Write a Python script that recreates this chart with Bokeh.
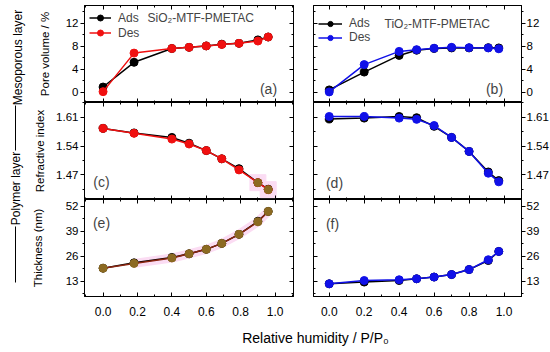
import numpy as np
from bokeh.plotting import figure
from bokeh.models import (Range1d, LinearAxis, FixedTicker, Label, Legend, LegendItem,
                          PrintfTickFormatter)
from bokeh.layouts import gridplot, row, column
from bokeh.embed import file_html
from bokeh.resources import INLINE
from bokeh.core.properties import value

FONT = "Liberation Sans"

# ---------------- data ----------------
rh_si = [0.0, 0.18, 0.40, 0.50, 0.60, 0.69, 0.79, 0.90, 0.96]
rh_ti = [0.0, 0.20, 0.40, 0.50, 0.60, 0.70, 0.80, 0.91, 0.97]

pore_si_ads = [0.9, 5.2, 7.6, 7.8, 8.05, 8.35, 8.5, 9.1, 9.6]
pore_si_des = [0.1, 6.8, 7.6, 7.8, 8.05, 8.3, 8.5, 8.9, 9.6]
pore_ti_ads = [0.4, 3.5, 6.4, 7.3, 7.6, 7.7, 7.7, 7.75, 7.7]
pore_ti_des = [0.05, 4.8, 7.1, 7.4, 7.65, 7.8, 7.75, 7.7, 7.55]

ri_si_ads = [1.583, 1.572, 1.561, 1.547, 1.529, 1.509, 1.485, 1.451, 1.435]
ri_si_des = [1.583, 1.571, 1.557, 1.545, 1.529, 1.509, 1.482, 1.451, 1.434]
ri_ti_ads = [1.606, 1.608, 1.612, 1.609, 1.588, 1.561, 1.527, 1.477, 1.456]
ri_ti_des = [1.612, 1.612, 1.608, 1.605, 1.590, 1.561, 1.527, 1.474, 1.453]

th_si_ads = [19.9, 22.7, 25.5, 27.4, 29.7, 32.8, 37.5, 44.3, 49.4]
th_si_des = [19.9, 22.4, 25.2, 27.4, 29.7, 32.8, 37.5, 44.0, 49.4]
th_ti_ads = [11.8, 12.7, 13.5, 14.4, 15.3, 16.6, 19.2, 23.9, 28.6]
th_ti_des = [11.8, 13.5, 13.9, 14.4, 15.3, 16.6, 19.2, 24.3, 28.6]

x_ticks = [0.0, 0.2, 0.4, 0.6, 0.8, 1.0]
x_minor = [-0.1, 0.1, 0.3, 0.5, 0.7, 0.9, 1.1]
pv_ticks = [0, 4, 8, 12]
pv_minor = [2, 6, 10, 14]
ri_ticks = [1.47, 1.54, 1.61]
ri_minor = [1.435, 1.505, 1.575, 1.645]
th_ticks = [13, 26, 39, 52]
th_minor = [6.5, 19.5, 32.5, 45.5]

series_labels = ["Ads", "Des"]
titles = ["SiO\u2082-MTF-PMETAC", "TiO\u2082-MTF-PMETAC"]
panel_tags = ["(a)", "(b)", "(c)", "(d)", "(e)", "(f)"]

BLACK = "#000000"
RED = "#f01010"
BLUE = "#1010e8"
OLIVE = "#8c6a22"
BROWN = "#8b2510"
PINK = "#fbdcf3"

# ---------------- geometry (page pixels) ----------------
XR_L = (-0.108, 1.107)
XR_R = (-0.09, 1.10)
YR = {"a": (-1.79, 15.08), "c": (1.410, 1.646), "e": (5.2, 55.6)}
FH = {"a": 97, "c": 97, "e": 97}
FW_L, FW_R = 209, 208
TOPS = {"a": 5, "c": 102, "e": 199}
LEFTS = {"L": 83, "R": 312}


def at(side, rk, px, py):
    xr = XR_L if side == "L" else XR_R
    fw = FW_L if side == "L" else FW_R
    yr = YR[rk]
    x = xr[0] + (px - LEFTS[side]) / fw * (xr[1] - xr[0])
    y = yr[1] - (py - TOPS[rk]) / FH[rk] * (yr[1] - yr[0])
    return x, y


def style_axis(ax, labelled, inward, fsize="12px", standoff=2):
    ax.axis_line_color = "black"
    ax.axis_line_width = 1
    ax.major_tick_line_color = "black"
    ax.minor_tick_line_color = "black"
    if inward:
        ax.major_tick_in, ax.major_tick_out = 4, 0
        ax.minor_tick_in, ax.minor_tick_out = 2, 0
    else:
        ax.major_tick_in, ax.major_tick_out = 0, 4
        ax.minor_tick_in, ax.minor_tick_out = 0, 2
    if labelled:
        ax.major_label_text_font = FONT
        ax.major_label_text_font_size = fsize
        ax.major_label_text_color = "black"
        ax.major_label_standoff = standoff
    else:
        ax.major_label_text_font_size = "1px"
        ax.major_label_text_color = None
        ax.major_label_text_alpha = 0
        ax.major_label_standoff = 0


def panel(side, rk, yticks, yminor, yfmt, ylabel=None, ylabel_standoff=5, xlabels=False):
    xr = XR_L if side == "L" else XR_R
    fw = FW_L if side == "L" else FW_R
    if side == "L":
        mbl, mbr = 55, 8
    else:
        mbl, mbr = 12, 30
    mbt = 5 if rk == "a" else 0
    mbb = 24 if rk == "e" else 0
    p = figure(frame_width=fw, frame_height=FH[rk], x_range=Range1d(*xr),
               y_range=Range1d(*YR[rk]), output_backend="svg", toolbar_location=None,
               x_axis_location=None, y_axis_location=None,
               min_border_left=mbl, min_border_right=mbr,
               min_border_top=mbt, min_border_bottom=mbb)
    p.grid.visible = False
    p.outline_line_color = "black"
    p.outline_line_width = 1
    p.outline_line_alpha = 1
    p.background_fill_color = "white"
    p.border_fill_color = "white"

    # x axes
    xb = LinearAxis(ticker=FixedTicker(ticks=x_ticks, minor_ticks=x_minor),
                    formatter=PrintfTickFormatter(format="%.1f"))
    style_axis(xb, xlabels, True, fsize="12px", standoff=10)
    p.add_layout(xb, "below")
    xt = LinearAxis(ticker=FixedTicker(ticks=x_ticks, minor_ticks=x_minor))
    style_axis(xt, False, True)
    p.add_layout(xt, "above")

    # y axes
    ylab = LinearAxis(ticker=FixedTicker(ticks=yticks, minor_ticks=yminor),
                      formatter=PrintfTickFormatter(format=yfmt))
    style_axis(ylab, True, False, fsize="11.5px", standoff=(2 if side == "L" else 1))
    ymir = LinearAxis(ticker=FixedTicker(ticks=yticks, minor_ticks=yminor))
    style_axis(ymir, False, True)
    if ylabel:
        ylab.axis_label = ylabel
        ylab.axis_label_text_font = FONT
        ylab.axis_label_text_font_size = "11.5px"
        ylab.axis_label_text_font_style = "normal"
        ylab.axis_label_text_color = "black"
        ylab.axis_label_standoff = ylabel_standoff
    if side == "L":
        p.add_layout(ylab, "left")
        p.add_layout(ymir, "right")
    else:
        p.add_layout(ylab, "right")
        p.add_layout(ymir, "left")
    return p


def add_series(p, x, ya, yd, c_ads, c_des, mfill_ads=None, mfill_des=None):
    la = p.line(x, ya, line_color=c_ads, line_width=1.5)
    sa = p.scatter(x, ya, size=8, fill_color=mfill_ads or c_ads, line_color=c_ads)
    ld = p.line(x, yd, line_color=c_des, line_width=1.5)
    sd = p.scatter(x, yd, size=8, fill_color=mfill_des or c_des, line_color=mfill_des or c_des)
    return (la, sa), (ld, sd)


def add_tag(p, side, rk, tag, px, py):
    x, y = at(side, rk, px, py)
    p.add_layout(Label(x=x, y=y, text=tag, text_font=FONT, text_font_size="14px",
                       text_align="center", text_baseline="middle"))


def add_legend(p, ra, rd, loc, gw, gh, standoff):
    p.add_layout(Legend(items=[LegendItem(label=series_labels[0], renderers=list(ra)),
                               LegendItem(label=series_labels[1], renderers=list(rd))],
                        location=loc, padding=0, spacing=0, margin=0, glyph_width=gw,
                        glyph_height=gh, label_height=gh, label_standoff=standoff,
                        label_text_font=FONT, label_text_font_size="12px",
                        background_fill_alpha=0, border_line_alpha=0))


# (a)
pa = panel("L", "a", pv_ticks, pv_minor, "%d", "Pore volume / %", ylabel_standoff=12)
ra, rd = add_series(pa, rh_si, pore_si_ads, pore_si_des, BLACK, RED)
add_legend(pa, ra, rd, (5, 62), 22, 15, 7)
tx, ty = at("L", "a", 146, 17)
pa.add_layout(Label(x=tx, y=ty, text=titles[0], text_font=FONT, text_font_size="12px",
                    text_align="left", text_baseline="middle"))
add_tag(pa, "L", "a", panel_tags[0], 267, 88)

# (b)
pb = panel("R", "a", pv_ticks, pv_minor, "%d")
ra, rd = add_series(pb, rh_ti, pore_ti_ads, pore_ti_des, BLACK, BLUE)
add_legend(pb, ra, rd, (5, 58), 24, 13, 7)
tx, ty = at("R", "a", 383, 23)
pb.add_layout(Label(x=tx, y=ty, text=titles[1], text_font=FONT, text_font_size="12px",
                    text_align="left", text_baseline="middle"))
add_tag(pb, "R", "a", panel_tags[1], 493, 88)

# (c)
pc = panel("L", "c", ri_ticks, ri_minor, "%.2f", "Refractive index", ylabel_standoff=7)
pc.scatter(rh_si[-2:], ri_si_des[-2:], marker="square", size=16, color=PINK)
add_series(pc, rh_si, ri_si_ads, ri_si_des, BLACK, RED)
pc.scatter(rh_si[-2:], ri_si_des[-2:], size=8, color=OLIVE)
add_tag(pc, "L", "c", panel_tags[2], 100, 181)

# (d)
pd_ = panel("R", "c", ri_ticks, ri_minor, "%.2f")
add_series(pd_, rh_ti, ri_ti_ads, ri_ti_des, BLACK, BLUE)
add_tag(pd_, "R", "c", panel_tags[3], 333, 182)

# (e)
pe = panel("L", "e", th_ticks, th_minor, "%d", "Thickness (nm)", ylabel_standoff=19,
           xlabels=True)
pe.line(rh_si[1:], th_si_des[1:], line_width=9, line_color=PINK)
add_series(pe, rh_si, th_si_ads, th_si_des, BLACK, BROWN, mfill_ads="#6b5418",
           mfill_des=OLIVE)
add_tag(pe, "L", "e", panel_tags[4], 100, 222)

# (f)
pf = panel("R", "e", th_ticks, th_minor, "%d", xlabels=True)
add_series(pf, rh_ti, th_ti_ads, th_ti_des, BLACK, BLUE)
add_tag(pf, "R", "e", panel_tags[5], 331, 223)

grid = gridplot([[pa, pb], [pc, pd_], [pe, pf]], toolbar_location=None)

# side strip with layer labels (page y -> data 320 - y)
strip = figure(width=28, height=320, x_range=Range1d(0, 28), y_range=Range1d(0, 320),
               output_backend="svg", toolbar_location=None, min_border=0,
               x_axis_location=None, y_axis_location=None)
strip.grid.visible = False
strip.outline_line_color = None
strip.text(x=[17], y=[320 - 57], text=["Mesoporous layer"], angle=np.pi / 2,
           text_align="center", text_baseline="middle", text_font=value(FONT),
           text_font_size="12px", text_color="black")
strip.text(x=[15], y=[320 - 188], text=["Polymer layer"], angle=np.pi / 2,
           text_align="center", text_baseline="middle", text_font=value(FONT),
           text_font_size="12px", text_color="black")
strip.segment(x0=[15, 15], y0=[320 - 105, 320 - 226], x1=[15, 15], y1=[320 - 150, 320 - 282],
              line_color="black", line_width=1)

# bottom strip with x-axis title (page y -> data 350 - y)
xlab = figure(width=550, height=30, x_range=Range1d(0, 550), y_range=Range1d(0, 30),
              output_backend="svg", toolbar_location=None, min_border=0,
              x_axis_location=None, y_axis_location=None)
xlab.grid.visible = False
xlab.outline_line_color = None
xlab.text(x=[315], y=[350 - 337], text=["Relative humidity / P/P\u2080"],
          text_align="center", text_baseline="middle", text_font=value(FONT),
          text_font_size="14px", text_color="black")

layout = column(row(strip, grid), xlab)
open("out.html", "w").write(file_html(layout, INLINE))
